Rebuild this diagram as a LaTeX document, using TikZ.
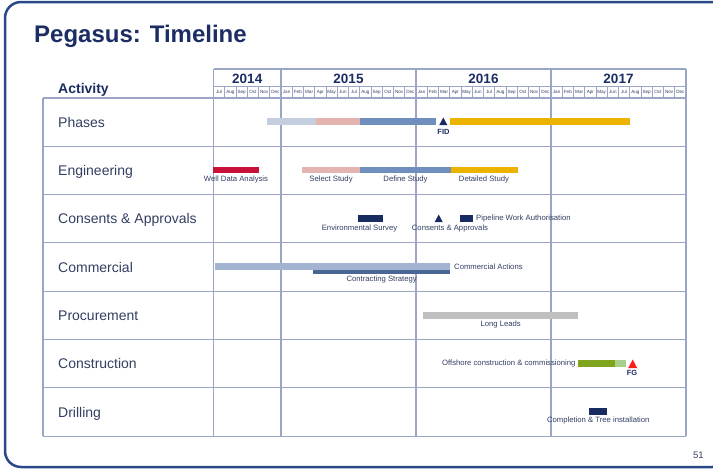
\documentclass[tikz,border=0pt]{standalone}
\usepackage{fontspec}
\setmainfont{Liberation Sans}
\definecolor{titleblue}{RGB}{28,45,100}
\definecolor{frameblue}{RGB}{42,72,135}
\definecolor{gridline}{RGB}{155,165,198}
\definecolor{labtext}{RGB}{50,62,98}
\definecolor{phlight}{RGB}{197,206,223}
\definecolor{phpink}{RGB}{230,180,176}
\definecolor{phblue}{RGB}{111,143,191}
\definecolor{phgold}{RGB}{236,178,0}
\definecolor{crimson}{RGB}{200,16,56}
\definecolor{navybar}{RGB}{24,44,98}
\definecolor{commlight}{RGB}{163,180,211}
\definecolor{commdark}{RGB}{74,102,150}
\definecolor{leadgrey}{RGB}{191,191,191}
\definecolor{offgreen}{RGB}{127,165,29}
\definecolor{offlight}{RGB}{169,207,143}
\definecolor{fgred}{RGB}{255,30,30}
\tikzset{
  gridln/.style={draw=gridline, line width=1.1pt},
  monthln/.style={draw=gridline, line width=0.6pt},
  rowlabel/.style={anchor=base west, inner sep=0, text=labtext, font=\fontsize{14}{14}\selectfont},
  barlabel/.style={inner sep=0, text=labtext, font=\fontsize{7.7}{8}\selectfont},
  monthlabel/.style={inner sep=0, text=labtext, font=\fontsize{4.6}{5}\selectfont},
  yearlabel/.style={anchor=base, inner sep=0, text=titleblue, font=\bfseries\fontsize{13.5}{14}\selectfont},
  milestone/.style={inner sep=0, text=titleblue, font=\bfseries\fontsize{7.5}{8}\selectfont},
}
\begin{document}
\begin{tikzpicture}[x=1pt,y=-1pt]
\useasboundingbox (0,0) rectangle (713,469);
\clip (0,0) rectangle (713,469);
\draw[frameblue, line width=2.5pt, rounded corners=16pt] (5,2) rectangle (728,467);
% title and header
\node[anchor=base west, inner sep=0, text=titleblue, font=\bfseries\fontsize{24}{24}\selectfont] (title) at (34,42.7) {Pegasus: Timeline};
\node[anchor=base west, inner sep=0, text=titleblue, font=\bfseries\fontsize{14}{14}\selectfont] (activity) at (58,93.3) {Activity};
\foreach \yr/\xc in {2014/247.25,2015/348.5,2016/483.5,2017/618.5}
  \node[yearlabel] (y\yr) at (\xc,83.3) {\yr};
\foreach \m [count=\i from 0] in {Jul,Aug,Sep,Oct,Nov,Dec}
  \node[monthlabel] (m14\i) at ({213.5+11.25*(\i+0.5)},92.3) {\m};
\foreach \yr in {0,1,2}
  \foreach \m [count=\j from 0] in {Jan,Feb,Mar,Apr,May,Jun,Jul,Aug,Sep,Oct,Nov,Dec}
    \node[monthlabel] (m\yr\j) at ({213.5+11.25*(6+12*\yr+\j+0.5)},92.3) {\m};
% grid
\foreach \i in {1,...,41}
  \draw[monthln] ({213.5+11.25*\i},86.7) -- ({213.5+11.25*\i},97.7);
\draw[gridln] (213.5,69) -- (686,69);
\draw[gridln] (213.5,86.7) -- (686,86.7);
\foreach \i in {0,...,7}
  \draw[gridln] (43,{98+48.3*\i}) -- (686,{98+48.3*\i});
\draw[gridln] (43,98) -- (43,436.1);
\foreach \x in {213.5,281,416,551,686}
  \draw[gridln] (\x,69) -- (\x,436.1);
\foreach \lab [count=\i from 0] in {Phases,Engineering,Consents \& Approvals,Commercial,Procurement,Construction,Drilling}
  \node[rowlabel] (row\i) at (58,{127.3+48.3*\i}) {\lab};
% phases
\fill[phlight] (266.7,118.3) rectangle (315.7,125);
\fill[phpink] (315.7,118.3) rectangle (360.3,125);
\fill[phblue] (360.3,118.3) rectangle (436,125);
\fill[phgold] (450,118.3) rectangle (630,125);
\fill[navybar] (439.3,125) -- (447.3,125) -- (443.3,117.5) -- cycle;
\node[milestone] (fid) at (443.5,132) {FID};
% engineering
\fill[crimson] (212.7,166.7) rectangle (259.3,173.3);
\fill[phpink] (302,166.7) rectangle (360.3,173.3);
\fill[phblue] (360.3,166.7) rectangle (450.7,173.3);
\fill[phgold] (450.7,166.7) rectangle (518,173.3);
\node[barlabel] (wda) at (236,179.5) {Well Data Analysis};
\node[barlabel] (select) at (331,179.5) {Select Study};
\node[barlabel] (define) at (405.5,179.5) {Define Study};
\node[barlabel] (detail) at (484,179.5) {Detailed Study};
% consents
\fill[navybar] (358.3,215) rectangle (383.3,221.7);
\fill[navybar] (434.7,222) -- (442.7,222) -- (438.7,214.5) -- cycle;
\fill[navybar] (460,215) rectangle (473.3,221.7);
\node[barlabel] (envsurvey) at (359.5,229) {Environmental Survey};
\node[barlabel] (consents) at (450,229) {Consents \& Approvals};
\node[barlabel, anchor=west] (pwa) at (476,219) {Pipeline Work Authorisation};
% commercial
\fill[commlight] (214.7,263.3) rectangle (450,270);
\fill[commdark] (313.3,270.3) rectangle (450,273.7);
\node[barlabel, anchor=west] (commact) at (454,266.7) {Commercial Actions};
\node[barlabel] (contract) at (381.7,280) {Contracting Strategy};
% procurement
\fill[leadgrey] (423.3,311.7) rectangle (578,319);
\node[barlabel] (leads) at (500.7,325) {Long Leads};
% construction
\fill[offgreen] (578.3,360) rectangle (615,367.3);
\fill[offlight] (615,360) rectangle (625.7,367.3);
\fill[fgred] (628.2,368) -- (637.2,368) -- (632.7,359.5) -- cycle;
\node[barlabel, anchor=east] (offshore) at (575.7,364) {Offshore construction \& commissioning};
\node[milestone] (fg) at (632,373.3) {FG};
% drilling
\fill[navybar] (589.3,408.3) rectangle (607.3,415);
\node[barlabel] (tree) at (598.3,421) {Completion \& Tree installation};
\node[inner sep=0, text=labtext, font=\fontsize{9.5}{10}\selectfont] (page) at (698.3,455) {51};
\end{tikzpicture}
\end{document}
